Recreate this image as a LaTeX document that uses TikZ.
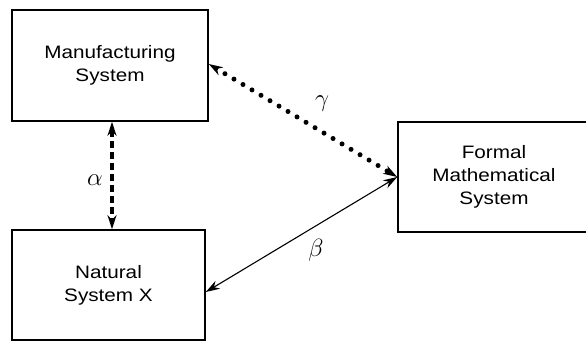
\documentclass[tikz,border=0pt]{standalone}
\usepackage{fontspec}
\setmainfont{Liberation Sans}[FakeStretch=1.15]
\usetikzlibrary{arrows.meta}
\begin{document}
\begin{tikzpicture}[x=1pt,y=-1pt,
  sysbox/.style={draw, line width=1.6pt, inner sep=0pt, align=center,
    font=\fontsize{18}{23}\selectfont},
  endtip/.tip={Stealth[length=14pt,width=9pt]},
  dashlink/.style={line width=3.2pt, dash pattern=on 7pt off 4pt, {endtip}-{endtip}},
  dotlink/.style={line width=5pt, line cap=round, dash pattern=on 0pt off 10.5pt,
    {endtip[line cap=butt]}-{endtip[line cap=butt]}},
  thinlink/.style={line width=1.1pt, {endtip}-{endtip}},
  greek/.style={font=\fontsize{25}{27}\selectfont}]
\useasboundingbox (0,0) rectangle (586,341);

% the three systems
\node[sysbox, minimum width=196pt, minimum height=111pt] (M) at (110,65.5)
  {Manufacturing\\System};
\node[sysbox, minimum width=193pt, minimum height=110pt] (N) at (108.5,285)
  {Natural\\System X};
\node[sysbox, minimum width=192pt, minimum height=110pt] (F) at (494,177)
  {Formal\\Mathematical\\System};

% relations between them
\draw[dashlink] ([xshift=2pt]M.south) -- ([xshift=2pt]M.south |- N.north);
\draw[dotlink] ([yshift=1.5pt]M.east) -- (F.west);
\draw[thinlink] ([yshift=-7pt]N.east) -- (F.west);

% labels
\node[greek] (la) at (95,180) {$\alpha$};
\node[greek] (lg) at (322,104) {$\gamma$};
\node[greek] (lb) at (316,250) {$\beta$};
\end{tikzpicture}
\end{document}
